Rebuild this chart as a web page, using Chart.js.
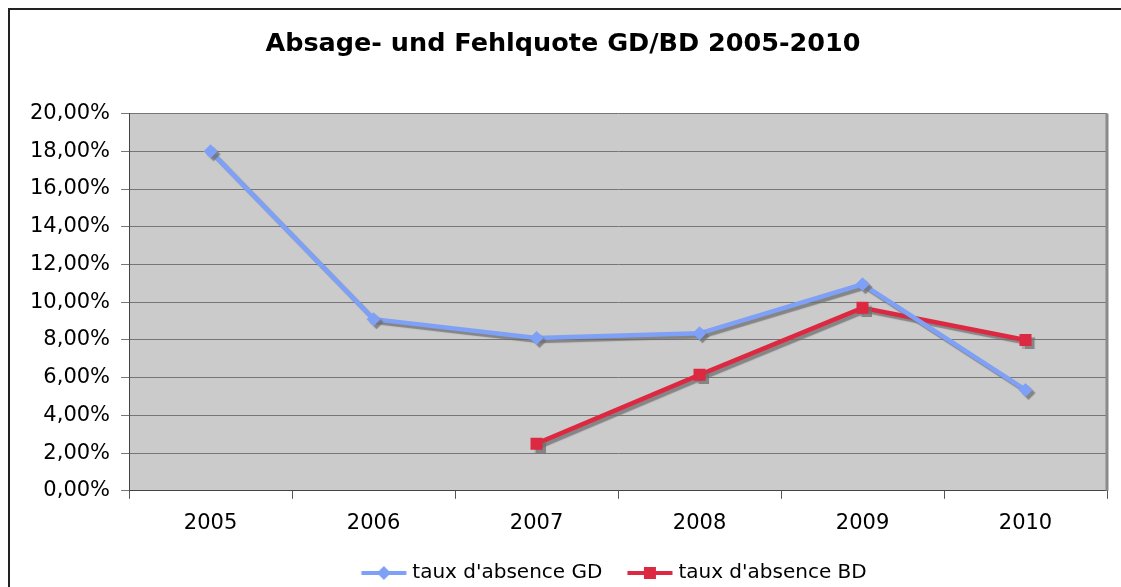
<!DOCTYPE html>
<html>
<head>
<meta charset="utf-8">
<script src="https://cdn.jsdelivr.net/npm/chart.js@4"></script>
<style>
  html, body { margin: 0; padding: 0; background: #fff; overflow: hidden; }
  #frame { position: absolute; left: 8px; top: 8px; width: 1300px; height: 800px; border: 2px solid #222; }
  #wrap { position: absolute; left: 0; top: 0; width: 1121px; height: 593px; }
</style>
</head>
<body>
<div id="frame"></div>
<div id="wrap"><canvas id="chartQuote"></canvas></div>
<script>
// Absage- und Fehlquote (in %)
const jahre = ['2005', '2006', '2007', '2008', '2009', '2010'];
const quoteGD = [18.0, 9.1, 8.1, 8.35, 10.95, 5.35];
const quoteBD = [null, null, 2.5, 6.15, 9.7, 8.0];
const serienNamen = ["taux d'absence GD", "taux d'absence BD"];
const titel = 'Absage- und Fehlquote GD/BD 2005-2010';

const blau = '#7EA1F7';
const rot = '#DC2840';
const schrift = "'DejaVu Sans', Verdana, sans-serif";

// kleines bild fuer die legende: linie + marker (links etwas leer als abstand)
function legendBild(farbe, form) {
  const c = document.createElement('canvas');
  c.width = 64; c.height = 16;
  const ctx = c.getContext('2d');
  ctx.strokeStyle = farbe;
  ctx.fillStyle = farbe;
  ctx.lineWidth = 4;
  ctx.beginPath(); ctx.moveTo(16.5, 8); ctx.lineTo(61.5, 8); ctx.stroke();
  ctx.beginPath();
  if (form === 'raute') {
    ctx.moveTo(39, 1); ctx.lineTo(46, 8); ctx.lineTo(39, 15); ctx.lineTo(32, 8);
  } else {
    ctx.rect(33, 2, 12, 12);
  }
  ctx.closePath(); ctx.fill();
  return c;
}
const legendBilder = [legendBild(blau, 'raute'), legendBild(rot, 'quadrat')];

// grauer hintergrund + rahmen rechts
const plotHintergrund = {
  id: 'plotHintergrund',
  beforeDraw(chart) {
    const {ctx, chartArea: a} = chart;
    ctx.save();
    ctx.fillStyle = '#CBCBCB';
    ctx.fillRect(a.left, a.top, a.right - a.left, a.bottom - a.top);
    ctx.restore();
  },
  beforeDatasetsDraw(chart) {
    const {ctx, chartArea: a} = chart;
    ctx.save();
    ctx.strokeStyle = '#8A8A8A';
    ctx.lineWidth = 3;
    ctx.beginPath(); ctx.moveTo(a.right, a.top); ctx.lineTo(a.right, a.bottom); ctx.stroke();
    ctx.restore();
  }
};

// legende sitzt im original etwas rechts von der mitte
const legendVersatz = {
  id: 'legendVersatz',
  afterLayout(chart) {
    chart.legend.left += 46;
    chart.legend.right += 46;
  }
};

// schatten unter den linien
const schatten = {
  id: 'schatten',
  beforeDatasetDraw(chart) {
    const ctx = chart.ctx;
    ctx.save();
    ctx.shadowColor = 'rgba(110,110,110,0.75)';
    ctx.shadowOffsetX = 3;
    ctx.shadowOffsetY = 3;
    ctx.shadowBlur = 1;
  },
  afterDatasetDraw(chart) {
    chart.ctx.restore();
  }
};

new Chart(document.getElementById('chartQuote'), {
  type: 'line',
  data: {
    labels: jahre,
    datasets: [{
      label: serienNamen[0],
      data: quoteGD,
      borderColor: blau,
      backgroundColor: blau,
      borderWidth: 4.5,
      pointStyle: 'rectRot',
      pointRadius: 7,
      pointBorderWidth: 0,
      tension: 0
    }, {
      label: serienNamen[1],
      data: quoteBD,
      borderColor: rot,
      backgroundColor: rot,
      borderWidth: 4.5,
      pointStyle: 'rect',
      pointRadius: 8.5,
      pointBorderWidth: 0,
      tension: 0
    }]
  },
  options: {
    responsive: true,
    maintainAspectRatio: false,
    animation: false,
    layout: { padding: { left: 19, right: 14, top: 0, bottom: 0 } },
    scales: {
      x: {
        offset: true,
        grid: { offset: true, drawOnChartArea: false, tickLength: 8, color: '#555' },
        border: { color: '#444', width: 1 },
        ticks: { color: '#000', font: { family: schrift, size: 21 }, padding: 12 }
      },
      y: {
        min: 0,
        max: 20,
        ticks: {
          stepSize: 2,
          color: '#000',
          padding: 11,
          font: { family: schrift, size: 21 },
          callback: (v) => v.toFixed(2).replace('.', ',') + '%'
        },
        grid: { color: '#767676', tickLength: 8, lineWidth: 1 },
        border: { color: '#444', width: 1 }
      }
    },
    plugins: {
      title: {
        display: true,
        text: titel,
        color: '#000',
        font: { family: schrift, size: 25.5, weight: 'bold' },
        padding: { top: 29, bottom: 54 }
      },
      legend: {
        position: 'bottom',
        labels: {
          color: '#000',
          font: { family: schrift, size: 20 },
          usePointStyle: true,
          pointStyleWidth: 51,
          padding: 15,
          generateLabels(chart) {
            const items = Chart.defaults.plugins.legend.labels.generateLabels(chart);
            items.forEach((it, i) => { it.pointStyle = legendBilder[i]; });
            return items;
          }
        }
      },
      tooltip: { enabled: false }
    }
  },
  plugins: [plotHintergrund, legendVersatz, schatten]
});
</script>
</body>
</html>
